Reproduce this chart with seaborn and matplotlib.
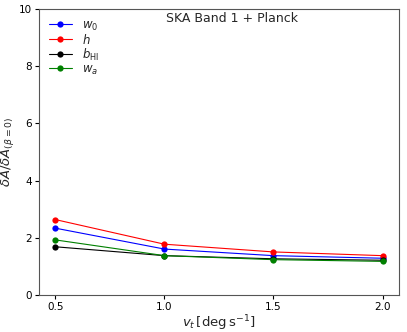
"""Ratio of errors vs scan speed for SKA Band 1 + Planck"""

import matplotlib
matplotlib.use("Agg")
import matplotlib.pyplot as plt
import seaborn as sns
import pandas as pd

vt = [0.5, 1.0, 1.5, 2.0]
w0 = [2.34, 1.61, 1.38, 1.29]
h = [2.64, 1.78, 1.51, 1.38]
b_hi = [1.69, 1.38, 1.27, 1.22]
wa = [1.93, 1.38, 1.24, 1.18]

labels = [r"$w_0$", r"$h$", r"$b_{\rm HI}$", r"$w_a$"]
colors = ["blue", "red", "black", "green"]

sns.set_style("ticks")
plt.rcParams["font.family"] = ["DejaVu Sans"]

fig, ax = plt.subplots(figsize=(4.07, 3.32), dpi=100)

for vals, lab, col in zip([w0, h, b_hi, wa], labels, colors):
    df = pd.DataFrame({"vt": vt, "ratio": vals})
    sns.lineplot(data=df, x="vt", y="ratio", ax=ax, color=col, marker="o",
                 markersize=4.5, markeredgewidth=0, linewidth=0.8, label=lab)

ax.set_ylim(0, 10)
ax.set_xticks([0.5, 1.0, 1.5, 2.0])
ax.set_yticks([0, 2, 4, 6, 8, 10])
ax.tick_params(labelsize=7.5, length=3, pad=2, colors="black")
for s in ax.spines.values():
    s.set_color("#555555")
ax.set_xlabel(r"$v_t\,[\mathrm{deg\,s^{-1}}]$", fontsize=9.5, labelpad=1)
ax.set_ylabel(r"$\delta A/\delta A_{(\beta=0)}$", fontsize=9.5, labelpad=2)
ax.text(0.536, 0.955, "SKA Band 1 + Planck", transform=ax.transAxes,
        ha="center", va="baseline", fontsize=9)
ax.legend(loc="upper left", frameon=False, fontsize=8.5, handlelength=2.0,
          labelspacing=0.0, borderaxespad=0.4)

fig.subplots_adjust(left=0.096, right=0.98, top=0.973, bottom=0.111)
fig.savefig("out.png", dpi=100)
